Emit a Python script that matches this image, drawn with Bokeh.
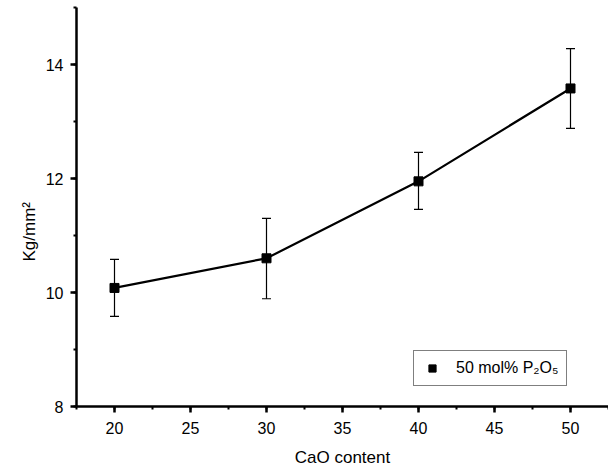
from bokeh.plotting import figure
from bokeh.models import (ColumnDataSource, Whisker, TeeHead, SingleIntervalTicker,
                          Legend, LegendItem, Range1d, Title)
from bokeh.embed import file_html
from bokeh.resources import INLINE

cao = [20, 30, 40, 50]
hardness = [10.08, 10.60, 11.95, 13.58]
err_low = [9.58, 9.89, 11.46, 12.88]
err_high = [10.58, 11.30, 12.46, 14.28]
series_label = "50 mol% P\u2082O\u2085"
x_title = "CaO content"
y_title = "Kg/mm\u00b2"

src = ColumnDataSource(dict(x=cao, y=hardness, lo=err_low, hi=err_high))

FONT = "Liberation Sans"

p = figure(width=608, height=471, output_backend="svg", toolbar_location=None,
           x_range=Range1d(17.5, 52.5), y_range=Range1d(8, 15),
           min_border_left=76, min_border_right=0, min_border_top=7,
           min_border_bottom=65)
p.outline_line_color = None
p.grid.visible = False
p.background_fill_color = "white"
p.border_fill_color = "white"

p.xaxis.ticker = SingleIntervalTicker(interval=5, num_minor_ticks=2)
p.yaxis.ticker = SingleIntervalTicker(interval=2, num_minor_ticks=2)

for ax in (p.xaxis, p.yaxis):
    ax.axis_line_width = 2.5
    ax.axis_line_color = "black"
    ax.major_tick_line_width = 2.5
    ax.major_tick_line_color = "black"
    ax.minor_tick_line_width = 2
    ax.minor_tick_line_color = "black"
    ax.major_tick_out = 6
    ax.major_tick_in = 0
    ax.minor_tick_out = 3
    ax.minor_tick_in = 0
    ax.major_label_text_font = FONT
    ax.major_label_text_font_size = "16px"
    ax.major_label_text_color = "black"
    ax.axis_label_text_font = FONT
    ax.axis_label_text_font_size = "17px"
    ax.axis_label_text_font_style = "normal"
    ax.axis_label_text_color = "black"

p.xaxis.axis_label = x_title
p.xaxis.major_label_standoff = 9
p.yaxis.major_label_standoff = 7
p.xaxis.axis_label_standoff = 11

yt = Title(text=y_title, align="left", offset=145, standoff=8,
           text_font=FONT, text_font_size="17px", text_font_style="normal",
           text_color="black")
p.add_layout(yt, "left")

p.line("x", "y", source=src, line_color="black", line_width=2.2)
wh = Whisker(source=src, base="x", upper="hi", lower="lo", dimension="height",
             line_color="black", line_width=1.2,
             upper_head=TeeHead(size=9, line_color="black", line_width=1.2),
             lower_head=TeeHead(size=9, line_color="black", line_width=1.2))
p.add_layout(wh)
sq = p.scatter("x", "y", source=src, marker="square", size=9,
               fill_color="black", line_color="black")

legend = Legend(items=[LegendItem(label=series_label, renderers=[sq])],
                location=(337, 20), orientation="vertical",
                border_line_color="black", border_line_width=1,
                background_fill_alpha=1.0, margin=0, padding=8,
                glyph_width=20, glyph_height=18, label_height=18,
                label_standoff=14, label_text_font=FONT,
                label_text_font_size="16px", label_text_color="black")
p.add_layout(legend, "center")

open("out.html", "w").write(file_html(p, INLINE))
